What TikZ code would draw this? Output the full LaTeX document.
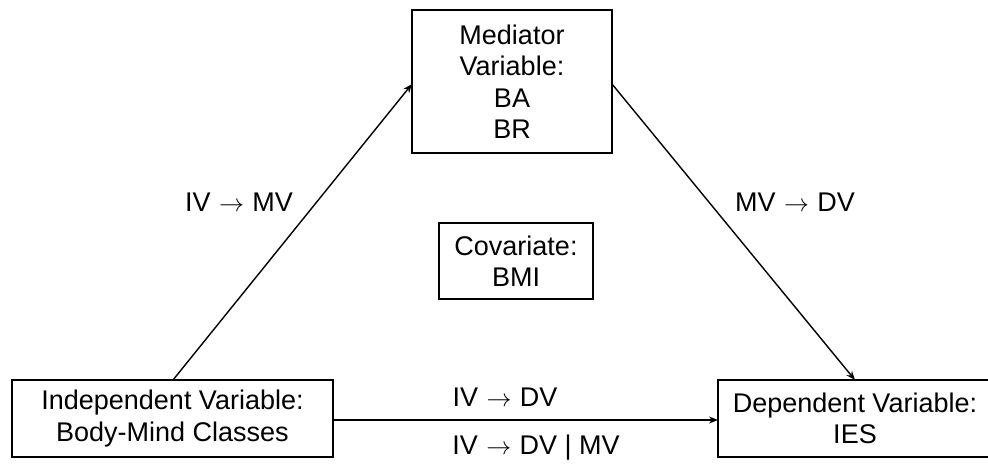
\documentclass[tikz,border=0pt]{standalone}
\usepackage{fontspec}
\setmainfont{Liberation Sans}
\usetikzlibrary{arrows.meta}
\newcommand{\arr}{\kern1pt$\rightarrow$\kern1pt}
\begin{document}
\begin{tikzpicture}[x=1pt,y=-1pt,
  box/.style={draw,line width=1.5pt,inner sep=0pt,align=center,font=\fontsize{27}{31.5}\selectfont},
  lbl/.style={inner sep=0pt,font=\fontsize{27}{31.5}\selectfont},
  conn/.style={line width=1.4pt,-{Stealth[length=9pt,width=7pt]}}]
\useasboundingbox (0,0) rectangle (988,466);
\node[box,minimum width=200pt,minimum height=143pt] (mv) at (512,81.5) {Mediator\\Variable:\\BA\\BR};
\node[box,minimum width=321pt,minimum height=77pt] (iv) at (172.5,418.5) {Independent Variable:\\Body-Mind Classes};
\node[box,minimum width=274pt,minimum height=77pt] (dv) at (855,418.5) {Dependent Variable:\\IES};
\node[box,minimum width=154pt,minimum height=76pt] (cv) at (516,261) {Covariate:\\BMI};
\coordinate (ivt) at (173,380);
\coordinate (mvl) at (412,84);
\coordinate (mvr) at (612,84);
\coordinate (dvt) at (855,380);
\coordinate (ivr) at (333,420);
\coordinate (dvl) at (718,420);
\draw[conn] (ivt) -- (mvl);
\draw[conn] (mvr) -- (dvt);
\draw[conn] (ivr) -- (dvl);
\node[lbl] (l1) at (239,202) {IV \arr{} MV};
\node[lbl] (l2) at (795,202) {MV \arr{} DV};
\node[lbl] (l3) at (505,397) {IV \arr{} DV};
\node[lbl] (l4) at (536,448) {IV \arr{} DV | MV};
\end{tikzpicture}
\end{document}
